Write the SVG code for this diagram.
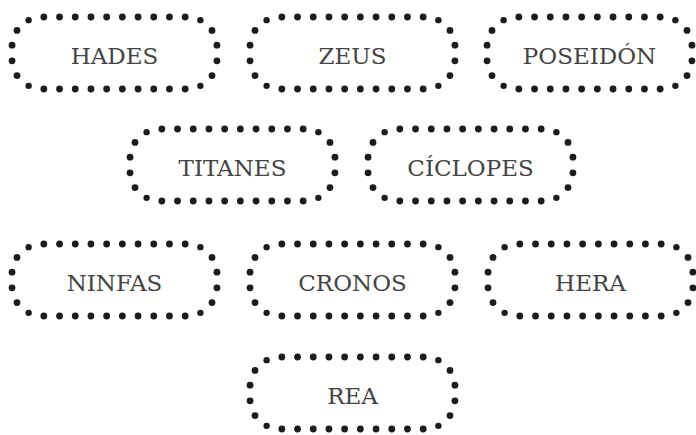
<svg xmlns="http://www.w3.org/2000/svg" xmlns:xlink="http://www.w3.org/1999/xlink" width="696" height="435" viewBox="0 0 696 435">
<style>
.dot{fill:#1c1c1c}
.lbl{font-family:"DejaVu Serif","Liberation Serif",serif;font-size:23px;fill:#444444;text-anchor:middle}
</style>
<defs>
<g id="pill">
<circle class="dot" r="3.4" cx="110.35" cy="0"/><circle class="dot" r="3.4" cx="126.05" cy="0"/><circle class="dot" r="3.4" cx="141.76" cy="0"/><circle class="dot" r="3.4" cx="157.46" cy="0"/><circle class="dot" r="3.4" cx="173.16" cy="0"/><circle class="dot" r="3.2" cx="188.38" cy="3.15"/><circle class="dot" r="3.4" cx="200" cy="13.42"/><circle class="dot" r="3.4" cx="204.94" cy="28.15"/>
<circle class="dot" r="3.4" cx="94.65" cy="0"/><circle class="dot" r="3.4" cx="78.95" cy="0"/><circle class="dot" r="3.4" cx="63.24" cy="0"/><circle class="dot" r="3.4" cx="47.54" cy="0"/><circle class="dot" r="3.4" cx="31.84" cy="0"/><circle class="dot" r="3.2" cx="16.62" cy="3.15"/><circle class="dot" r="3.4" cx="5" cy="13.42"/><circle class="dot" r="3.4" cx="0.06" cy="28.15"/>
<circle class="dot" r="3.4" cx="110.35" cy="72"/><circle class="dot" r="3.4" cx="126.05" cy="72"/><circle class="dot" r="3.4" cx="141.76" cy="72"/><circle class="dot" r="3.4" cx="157.46" cy="72"/><circle class="dot" r="3.4" cx="173.16" cy="72"/><circle class="dot" r="3.2" cx="188.38" cy="68.85"/><circle class="dot" r="3.4" cx="200" cy="58.58"/><circle class="dot" r="3.4" cx="204.94" cy="43.85"/>
<circle class="dot" r="3.4" cx="94.65" cy="72"/><circle class="dot" r="3.4" cx="78.95" cy="72"/><circle class="dot" r="3.4" cx="63.24" cy="72"/><circle class="dot" r="3.4" cx="47.54" cy="72"/><circle class="dot" r="3.4" cx="31.84" cy="72"/><circle class="dot" r="3.2" cx="16.62" cy="68.85"/><circle class="dot" r="3.4" cx="5" cy="58.58"/><circle class="dot" r="3.4" cx="0.06" cy="43.85"/>
</g>
</defs>
<rect width="696" height="435" fill="#ffffff"/>
<g id="connectors"></g>
<g id="hades"><use xlink:href="#pill" x="12" y="17"/><text class="lbl" x="114.5" y="64">HADES</text></g>
<g id="zeus"><use xlink:href="#pill" x="250" y="17"/><text class="lbl" x="352.5" y="64">ZEUS</text></g>
<g id="poseidon"><use xlink:href="#pill" x="487" y="17"/><text class="lbl" x="589.5" y="64">POSEIDÓN</text></g>
<g id="titanes"><use xlink:href="#pill" x="130" y="129"/><text class="lbl" x="232.5" y="176">TITANES</text></g>
<g id="ciclopes"><use xlink:href="#pill" x="368" y="129"/><text class="lbl" x="470.5" y="176">CÍCLOPES</text></g>
<g id="ninfas"><use xlink:href="#pill" x="12" y="244"/><text class="lbl" x="114.5" y="291">NINFAS</text></g>
<g id="cronos"><use xlink:href="#pill" x="250" y="244"/><text class="lbl" x="352.5" y="291">CRONOS</text></g>
<g id="hera"><use xlink:href="#pill" x="488" y="244"/><text class="lbl" x="590.5" y="291">HERA</text></g>
<g id="rea"><use xlink:href="#pill" x="250" y="357"/><text class="lbl" x="352.5" y="404">REA</text></g>
</svg>
